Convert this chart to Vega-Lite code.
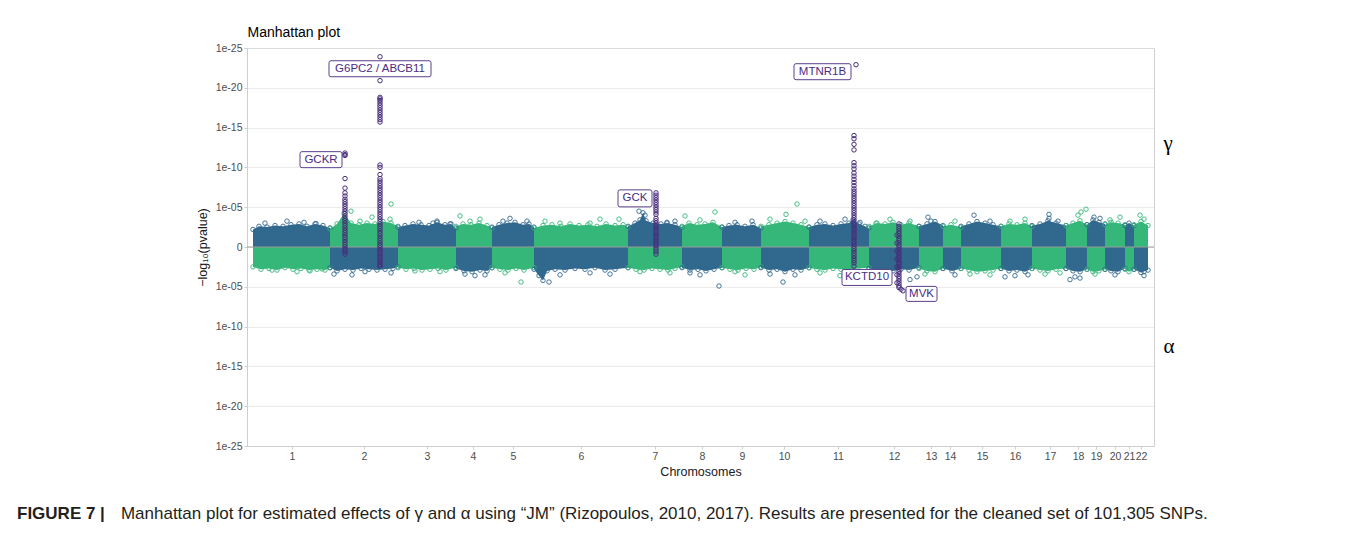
{
  "$schema": "https://vega.github.io/schema/vega-lite/v6.json",
  "width": 907,
  "height": 398,
  "autosize": {"type": "none"},
  "padding": {"left": 247, "top": 48, "right": 206, "bottom": 100},
  "background": "white",
  "config": {
    "view": {"stroke": null},
    "font": "Liberation Sans",
    "axis": {"labelFont": "Liberation Sans", "titleFont": "Liberation Sans"}
  },
  "title": {
    "text": "FIGURE 7 |",
    "subtitle": "\u200b\u00a0\u00a0\u00a0\u00a0\u00a0\u00a0\u00a0\u00a0\u00a0\u00a0\u00a0\u00a0\u00a0\u00a0\u00a0\u00a0\u00a0\u00a0\u00a0\u00a0\u00a0\u00a0Manhattan plot for estimated effects of γ and α using “JM” (Rizopoulos, 2010, 2017). Results are presented for the cleaned set of 101,305 SNPs.",
    "orient": "bottom",
    "anchor": "start",
    "frame": "group",
    "dx": -230,
    "offset": 28,
    "font": "Liberation Sans",
    "fontSize": 17,
    "fontWeight": "bold",
    "color": "#231f20",
    "subtitleFont": "Liberation Sans",
    "subtitleFontSize": 17,
    "subtitleColor": "#231f20",
    "subtitlePadding": -17
  },
  "datasets": {
    "env": [
      {"chr":1,"side":"g","pos":6,"v":2.2},{"chr":1,"side":"g","pos":12,"v":2.6},{"chr":1,"side":"g","pos":20,"v":2.5},{"chr":1,"side":"g","pos":28,"v":2.7},{"chr":1,"side":"g","pos":36,"v":2.6},{"chr":1,"side":"g","pos":44,"v":2.8},{"chr":1,"side":"g","pos":52,"v":2.9},{"chr":1,"side":"g","pos":60,"v":2.6},{"chr":1,"side":"g","pos":68,"v":2.9},{"chr":1,"side":"g","pos":76,"v":2.7},{"chr":1,"side":"g","pos":83,"v":2.4},
      {"chr":2,"side":"g","pos":83,"v":2.3},{"chr":2,"side":"g","pos":90,"v":2.9},{"chr":2,"side":"g","pos":97,"v":4.2},{"chr":2,"side":"g","pos":104,"v":3.0},{"chr":2,"side":"g","pos":112,"v":2.8},{"chr":2,"side":"g","pos":120,"v":3.0},{"chr":2,"side":"g","pos":128,"v":2.9},{"chr":2,"side":"g","pos":136,"v":3.2},{"chr":2,"side":"g","pos":144,"v":3.0},{"chr":2,"side":"g","pos":151,"v":2.6},
      {"chr":3,"side":"g","pos":151,"v":2.5},{"chr":3,"side":"g","pos":158,"v":2.7},{"chr":3,"side":"g","pos":166,"v":2.9},{"chr":3,"side":"g","pos":174,"v":2.8},{"chr":3,"side":"g","pos":182,"v":2.7},{"chr":3,"side":"g","pos":190,"v":3.1},{"chr":3,"side":"g","pos":198,"v":2.8},{"chr":3,"side":"g","pos":204,"v":2.9},{"chr":3,"side":"g","pos":209,"v":2.4},
      {"chr":4,"side":"g","pos":209,"v":2.6},{"chr":4,"side":"g","pos":216,"v":2.9},{"chr":4,"side":"g","pos":224,"v":2.8},{"chr":4,"side":"g","pos":232,"v":3.0},{"chr":4,"side":"g","pos":240,"v":2.7},{"chr":4,"side":"g","pos":245,"v":2.4},
      {"chr":5,"side":"g","pos":245,"v":2.5},{"chr":5,"side":"g","pos":252,"v":2.8},{"chr":5,"side":"g","pos":260,"v":3.0},{"chr":5,"side":"g","pos":268,"v":3.1},{"chr":5,"side":"g","pos":276,"v":2.8},{"chr":5,"side":"g","pos":282,"v":2.9},{"chr":5,"side":"g","pos":287,"v":2.5},
      {"chr":6,"side":"g","pos":287,"v":2.4},{"chr":6,"side":"g","pos":296,"v":2.7},{"chr":6,"side":"g","pos":305,"v":2.8},{"chr":6,"side":"g","pos":314,"v":2.6},{"chr":6,"side":"g","pos":323,"v":2.9},{"chr":6,"side":"g","pos":332,"v":2.7},{"chr":6,"side":"g","pos":341,"v":2.8},{"chr":6,"side":"g","pos":350,"v":2.6},{"chr":6,"side":"g","pos":359,"v":2.9},{"chr":6,"side":"g","pos":368,"v":2.7},{"chr":6,"side":"g","pos":376,"v":2.8},{"chr":6,"side":"g","pos":381,"v":2.5},
      {"chr":7,"side":"g","pos":381,"v":2.6},{"chr":7,"side":"g","pos":388,"v":3.0},{"chr":7,"side":"g","pos":393,"v":3.4},{"chr":7,"side":"g","pos":396,"v":4.3},{"chr":7,"side":"g","pos":399,"v":3.3},{"chr":7,"side":"g","pos":406,"v":3.0},{"chr":7,"side":"g","pos":414,"v":2.9},{"chr":7,"side":"g","pos":420,"v":3.0},{"chr":7,"side":"g","pos":428,"v":2.8},{"chr":7,"side":"g","pos":435,"v":2.5},
      {"chr":8,"side":"g","pos":435,"v":2.6},{"chr":8,"side":"g","pos":442,"v":3.0},{"chr":8,"side":"g","pos":450,"v":2.8},{"chr":8,"side":"g","pos":458,"v":2.9},{"chr":8,"side":"g","pos":466,"v":3.1},{"chr":8,"side":"g","pos":475,"v":2.5},
      {"chr":9,"side":"g","pos":475,"v":2.5},{"chr":9,"side":"g","pos":482,"v":2.7},{"chr":9,"side":"g","pos":490,"v":2.8},{"chr":9,"side":"g","pos":498,"v":2.6},{"chr":9,"side":"g","pos":506,"v":2.8},{"chr":9,"side":"g","pos":514,"v":2.4},
      {"chr":10,"side":"g","pos":514,"v":2.6},{"chr":10,"side":"g","pos":522,"v":2.8},{"chr":10,"side":"g","pos":530,"v":3.0},{"chr":10,"side":"g","pos":538,"v":3.2},{"chr":10,"side":"g","pos":546,"v":3.0},{"chr":10,"side":"g","pos":554,"v":2.8},{"chr":10,"side":"g","pos":562,"v":2.5},
      {"chr":11,"side":"g","pos":562,"v":2.5},{"chr":11,"side":"g","pos":570,"v":2.8},{"chr":11,"side":"g","pos":578,"v":2.9},{"chr":11,"side":"g","pos":586,"v":2.7},{"chr":11,"side":"g","pos":594,"v":2.9},{"chr":11,"side":"g","pos":602,"v":3.0},{"chr":11,"side":"g","pos":606,"v":3.4},{"chr":11,"side":"g","pos":612,"v":2.9},{"chr":11,"side":"g","pos":618,"v":2.6},{"chr":11,"side":"g","pos":622,"v":2.4},
      {"chr":12,"side":"g","pos":622,"v":2.6},{"chr":12,"side":"g","pos":630,"v":3.0},{"chr":12,"side":"g","pos":638,"v":2.9},{"chr":12,"side":"g","pos":646,"v":3.1},{"chr":12,"side":"g","pos":654,"v":2.8},{"chr":12,"side":"g","pos":662,"v":3.0},{"chr":12,"side":"g","pos":672,"v":2.6},
      {"chr":13,"side":"g","pos":672,"v":2.6},{"chr":13,"side":"g","pos":680,"v":2.9},{"chr":13,"side":"g","pos":688,"v":3.2},{"chr":13,"side":"g","pos":696,"v":2.7},
      {"chr":14,"side":"g","pos":696,"v":2.6},{"chr":14,"side":"g","pos":704,"v":2.8},{"chr":14,"side":"g","pos":714,"v":2.5},
      {"chr":15,"side":"g","pos":714,"v":2.6},{"chr":15,"side":"g","pos":722,"v":2.9},{"chr":15,"side":"g","pos":730,"v":3.2},{"chr":15,"side":"g","pos":738,"v":3.0},{"chr":15,"side":"g","pos":746,"v":2.8},{"chr":15,"side":"g","pos":754,"v":2.6},
      {"chr":16,"side":"g","pos":754,"v":2.6},{"chr":16,"side":"g","pos":762,"v":2.9},{"chr":16,"side":"g","pos":770,"v":2.8},{"chr":16,"side":"g","pos":778,"v":3.0},{"chr":16,"side":"g","pos":785,"v":2.6},
      {"chr":17,"side":"g","pos":785,"v":2.7},{"chr":17,"side":"g","pos":793,"v":2.9},{"chr":17,"side":"g","pos":801,"v":3.3},{"chr":17,"side":"g","pos":809,"v":3.0},{"chr":17,"side":"g","pos":819,"v":2.7},
      {"chr":18,"side":"g","pos":819,"v":2.7},{"chr":18,"side":"g","pos":826,"v":3.0},{"chr":18,"side":"g","pos":833,"v":3.3},{"chr":18,"side":"g","pos":840,"v":2.8},
      {"chr":19,"side":"g","pos":840,"v":2.8},{"chr":19,"side":"g","pos":846,"v":3.4},{"chr":19,"side":"g","pos":852,"v":3.1},{"chr":19,"side":"g","pos":858,"v":2.9},
      {"chr":20,"side":"g","pos":858,"v":2.8},{"chr":20,"side":"g","pos":864,"v":3.1},{"chr":20,"side":"g","pos":871,"v":3.0},{"chr":20,"side":"g","pos":878,"v":2.8},
      {"chr":21,"side":"g","pos":878,"v":2.7},{"chr":21,"side":"g","pos":882,"v":3.0},{"chr":21,"side":"g","pos":887,"v":2.7},
      {"chr":22,"side":"g","pos":887,"v":2.8},{"chr":22,"side":"g","pos":894,"v":3.2},{"chr":22,"side":"g","pos":901,"v":2.7},
      {"chr":1,"side":"a","pos":6,"v":-2.5},{"chr":1,"side":"a","pos":14,"v":-2.8},{"chr":1,"side":"a","pos":22,"v":-2.7},{"chr":1,"side":"a","pos":30,"v":-2.9},{"chr":1,"side":"a","pos":38,"v":-2.6},{"chr":1,"side":"a","pos":46,"v":-2.8},{"chr":1,"side":"a","pos":54,"v":-2.7},{"chr":1,"side":"a","pos":62,"v":-2.9},{"chr":1,"side":"a","pos":70,"v":-2.8},{"chr":1,"side":"a","pos":78,"v":-2.9},{"chr":1,"side":"a","pos":83,"v":-2.6},
      {"chr":2,"side":"a","pos":83,"v":-2.6},{"chr":2,"side":"a","pos":90,"v":-3.0},{"chr":2,"side":"a","pos":98,"v":-2.8},{"chr":2,"side":"a","pos":106,"v":-2.9},{"chr":2,"side":"a","pos":114,"v":-2.7},{"chr":2,"side":"a","pos":122,"v":-2.8},{"chr":2,"side":"a","pos":130,"v":-2.9},{"chr":2,"side":"a","pos":138,"v":-2.8},{"chr":2,"side":"a","pos":146,"v":-2.7},{"chr":2,"side":"a","pos":151,"v":-2.5},
      {"chr":3,"side":"a","pos":151,"v":-2.6},{"chr":3,"side":"a","pos":159,"v":-2.8},{"chr":3,"side":"a","pos":167,"v":-2.7},{"chr":3,"side":"a","pos":175,"v":-2.9},{"chr":3,"side":"a","pos":183,"v":-2.8},{"chr":3,"side":"a","pos":191,"v":-2.7},{"chr":3,"side":"a","pos":199,"v":-2.9},{"chr":3,"side":"a","pos":209,"v":-2.6},
      {"chr":4,"side":"a","pos":209,"v":-2.7},{"chr":4,"side":"a","pos":217,"v":-3.0},{"chr":4,"side":"a","pos":225,"v":-3.1},{"chr":4,"side":"a","pos":233,"v":-2.9},{"chr":4,"side":"a","pos":240,"v":-3.0},{"chr":4,"side":"a","pos":245,"v":-2.6},
      {"chr":5,"side":"a","pos":245,"v":-2.6},{"chr":5,"side":"a","pos":253,"v":-2.8},{"chr":5,"side":"a","pos":261,"v":-2.9},{"chr":5,"side":"a","pos":269,"v":-2.7},{"chr":5,"side":"a","pos":277,"v":-2.9},{"chr":5,"side":"a","pos":287,"v":-2.6},
      {"chr":6,"side":"a","pos":287,"v":-2.8},{"chr":6,"side":"a","pos":292,"v":-3.6},{"chr":6,"side":"a","pos":296,"v":-4.2},{"chr":6,"side":"a","pos":300,"v":-3.0},{"chr":6,"side":"a","pos":308,"v":-2.8},{"chr":6,"side":"a","pos":318,"v":-2.9},{"chr":6,"side":"a","pos":328,"v":-2.7},{"chr":6,"side":"a","pos":338,"v":-2.8},{"chr":6,"side":"a","pos":348,"v":-2.6},{"chr":6,"side":"a","pos":358,"v":-2.9},{"chr":6,"side":"a","pos":368,"v":-2.8},{"chr":6,"side":"a","pos":381,"v":-2.6},
      {"chr":7,"side":"a","pos":381,"v":-2.6},{"chr":7,"side":"a","pos":389,"v":-2.8},{"chr":7,"side":"a","pos":397,"v":-2.9},{"chr":7,"side":"a","pos":405,"v":-2.7},{"chr":7,"side":"a","pos":413,"v":-2.8},{"chr":7,"side":"a","pos":421,"v":-2.9},{"chr":7,"side":"a","pos":428,"v":-2.7},{"chr":7,"side":"a","pos":435,"v":-2.5},
      {"chr":8,"side":"a","pos":435,"v":-2.6},{"chr":8,"side":"a","pos":443,"v":-2.9},{"chr":8,"side":"a","pos":451,"v":-2.8},{"chr":8,"side":"a","pos":459,"v":-3.0},{"chr":8,"side":"a","pos":467,"v":-2.8},{"chr":8,"side":"a","pos":475,"v":-2.6},
      {"chr":9,"side":"a","pos":475,"v":-2.6},{"chr":9,"side":"a","pos":483,"v":-2.8},{"chr":9,"side":"a","pos":491,"v":-2.9},{"chr":9,"side":"a","pos":499,"v":-2.7},{"chr":9,"side":"a","pos":507,"v":-2.8},{"chr":9,"side":"a","pos":514,"v":-2.5},
      {"chr":10,"side":"a","pos":514,"v":-2.6},{"chr":10,"side":"a","pos":522,"v":-2.9},{"chr":10,"side":"a","pos":530,"v":-2.8},{"chr":10,"side":"a","pos":538,"v":-3.1},{"chr":10,"side":"a","pos":546,"v":-2.8},{"chr":10,"side":"a","pos":554,"v":-2.9},{"chr":10,"side":"a","pos":562,"v":-2.6},
      {"chr":11,"side":"a","pos":562,"v":-2.6},{"chr":11,"side":"a","pos":570,"v":-2.8},{"chr":11,"side":"a","pos":578,"v":-2.9},{"chr":11,"side":"a","pos":586,"v":-2.7},{"chr":11,"side":"a","pos":594,"v":-2.8},{"chr":11,"side":"a","pos":602,"v":-2.9},{"chr":11,"side":"a","pos":610,"v":-2.7},{"chr":11,"side":"a","pos":622,"v":-2.6},
      {"chr":12,"side":"a","pos":622,"v":-2.7},{"chr":12,"side":"a","pos":630,"v":-2.9},{"chr":12,"side":"a","pos":638,"v":-2.8},{"chr":12,"side":"a","pos":646,"v":-3.0},{"chr":12,"side":"a","pos":654,"v":-2.8},{"chr":12,"side":"a","pos":662,"v":-2.9},{"chr":12,"side":"a","pos":672,"v":-2.6},
      {"chr":13,"side":"a","pos":672,"v":-2.7},{"chr":13,"side":"a","pos":680,"v":-3.0},{"chr":13,"side":"a","pos":688,"v":-3.1},{"chr":13,"side":"a","pos":696,"v":-2.7},
      {"chr":14,"side":"a","pos":696,"v":-2.7},{"chr":14,"side":"a","pos":705,"v":-3.0},{"chr":14,"side":"a","pos":714,"v":-2.7},
      {"chr":15,"side":"a","pos":714,"v":-2.7},{"chr":15,"side":"a","pos":722,"v":-2.9},{"chr":15,"side":"a","pos":730,"v":-3.1},{"chr":15,"side":"a","pos":738,"v":-3.0},{"chr":15,"side":"a","pos":746,"v":-2.9},{"chr":15,"side":"a","pos":754,"v":-2.7},
      {"chr":16,"side":"a","pos":754,"v":-2.7},{"chr":16,"side":"a","pos":762,"v":-3.0},{"chr":16,"side":"a","pos":770,"v":-2.9},{"chr":16,"side":"a","pos":778,"v":-3.1},{"chr":16,"side":"a","pos":785,"v":-2.7},
      {"chr":17,"side":"a","pos":785,"v":-2.7},{"chr":17,"side":"a","pos":793,"v":-2.9},{"chr":17,"side":"a","pos":801,"v":-3.0},{"chr":17,"side":"a","pos":809,"v":-2.8},{"chr":17,"side":"a","pos":819,"v":-2.7},
      {"chr":18,"side":"a","pos":819,"v":-2.7},{"chr":18,"side":"a","pos":826,"v":-3.0},{"chr":18,"side":"a","pos":833,"v":-3.1},{"chr":18,"side":"a","pos":840,"v":-2.8},
      {"chr":19,"side":"a","pos":840,"v":-2.8},{"chr":19,"side":"a","pos":846,"v":-3.1},{"chr":19,"side":"a","pos":852,"v":-3.0},{"chr":19,"side":"a","pos":858,"v":-2.8},
      {"chr":20,"side":"a","pos":858,"v":-2.8},{"chr":20,"side":"a","pos":864,"v":-3.0},{"chr":20,"side":"a","pos":871,"v":-3.1},{"chr":20,"side":"a","pos":878,"v":-2.7},
      {"chr":21,"side":"a","pos":878,"v":-2.8},{"chr":21,"side":"a","pos":882,"v":-3.1},{"chr":21,"side":"a","pos":887,"v":-2.8},
      {"chr":22,"side":"a","pos":887,"v":-2.8},{"chr":22,"side":"a","pos":894,"v":-3.2},{"chr":22,"side":"a","pos":901,"v":-2.9}
    ],
    "out": [
      {"chr":1,"side":"g","pos":18,"v":3.0},{"chr":1,"side":"g","pos":40,"v":3.25},{"chr":1,"side":"g","pos":57,"v":3.1},{"chr":1,"side":"g","pos":69,"v":2.95},
      {"chr":2,"side":"g","pos":104,"v":4.5},{"chr":2,"side":"g","pos":144,"v":5.4},{"chr":2,"side":"g","pos":143,"v":3.5},{"chr":2,"side":"g","pos":125,"v":3.75},{"chr":2,"side":"g","pos":113,"v":3.25},
      {"chr":3,"side":"g","pos":172,"v":3.1},{"chr":3,"side":"g","pos":186,"v":3.0},{"chr":3,"side":"g","pos":190,"v":3.25},{"chr":3,"side":"g","pos":203,"v":2.9},
      {"chr":4,"side":"g","pos":213,"v":3.9},{"chr":4,"side":"g","pos":223,"v":3.25},{"chr":4,"side":"g","pos":233,"v":3.5},
      {"chr":5,"side":"g","pos":256,"v":3.25},{"chr":5,"side":"g","pos":263,"v":3.6},{"chr":5,"side":"g","pos":280,"v":3.25},
      {"chr":6,"side":"g","pos":298,"v":3.25},{"chr":6,"side":"g","pos":313,"v":3.0},{"chr":6,"side":"g","pos":343,"v":3.0},{"chr":6,"side":"g","pos":353,"v":3.5},{"chr":6,"side":"g","pos":372,"v":3.5},
      {"chr":7,"side":"g","pos":392,"v":4.5},{"chr":7,"side":"g","pos":398,"v":4.0},{"chr":7,"side":"g","pos":420,"v":3.1},{"chr":7,"side":"g","pos":428,"v":3.25},
      {"chr":8,"side":"g","pos":438,"v":3.9},{"chr":8,"side":"g","pos":468,"v":4.4},{"chr":8,"side":"g","pos":453,"v":3.4},
      {"chr":9,"side":"g","pos":488,"v":3.1},{"chr":9,"side":"g","pos":505,"v":3.25},
      {"chr":10,"side":"g","pos":550,"v":5.4},{"chr":10,"side":"g","pos":539,"v":4.1},{"chr":10,"side":"g","pos":523,"v":3.5},{"chr":10,"side":"g","pos":558,"v":3.25},
      {"chr":11,"side":"g","pos":573,"v":3.25},{"chr":11,"side":"g","pos":598,"v":3.5},{"chr":11,"side":"g","pos":613,"v":3.1},
      {"chr":12,"side":"g","pos":629,"v":3.0},{"chr":12,"side":"g","pos":643,"v":3.5},{"chr":12,"side":"g","pos":663,"v":3.25},
      {"chr":13,"side":"g","pos":681,"v":3.75},{"chr":13,"side":"g","pos":684,"v":3.25},
      {"chr":14,"side":"g","pos":708,"v":3.25},
      {"chr":15,"side":"g","pos":727,"v":4.0},{"chr":15,"side":"g","pos":743,"v":3.25},
      {"chr":16,"side":"g","pos":763,"v":3.25},{"chr":16,"side":"g","pos":778,"v":3.5},
      {"chr":17,"side":"g","pos":802,"v":4.1},{"chr":17,"side":"g","pos":802,"v":3.6},{"chr":17,"side":"g","pos":811,"v":3.25},
      {"chr":18,"side":"g","pos":831,"v":4.0},{"chr":18,"side":"g","pos":834,"v":4.4},{"chr":18,"side":"g","pos":839,"v":4.75},
      {"chr":19,"side":"g","pos":847,"v":3.75},{"chr":19,"side":"g","pos":853,"v":3.6},
      {"chr":20,"side":"g","pos":873,"v":3.75},{"chr":20,"side":"g","pos":863,"v":3.4},
      {"chr":22,"side":"g","pos":897,"v":3.5},{"chr":22,"side":"g","pos":893,"v":4.0},
      {"chr":1,"side":"a","pos":63,"v":-3.0},{"chr":1,"side":"a","pos":50,"v":-3.1},{"chr":1,"side":"a","pos":25,"v":-2.9},{"chr":1,"side":"a","pos":75,"v":-2.75},
      {"chr":2,"side":"a","pos":87,"v":-3.4},{"chr":2,"side":"a","pos":144,"v":-3.25},{"chr":2,"side":"a","pos":118,"v":-3.1},{"chr":2,"side":"a","pos":105,"v":-3.5},
      {"chr":3,"side":"a","pos":168,"v":-3.0},{"chr":3,"side":"a","pos":193,"v":-3.1},
      {"chr":4,"side":"a","pos":218,"v":-3.4},{"chr":4,"side":"a","pos":228,"v":-3.6},{"chr":4,"side":"a","pos":238,"v":-3.5},
      {"chr":5,"side":"a","pos":274,"v":-4.4},{"chr":5,"side":"a","pos":258,"v":-3.25},
      {"chr":6,"side":"a","pos":302,"v":-4.4},{"chr":6,"side":"a","pos":313,"v":-3.5},{"chr":6,"side":"a","pos":343,"v":-3.25},{"chr":6,"side":"a","pos":363,"v":-3.4},
      {"chr":7,"side":"a","pos":393,"v":-3.1},{"chr":7,"side":"a","pos":423,"v":-3.25},
      {"chr":8,"side":"a","pos":472,"v":-4.9},{"chr":8,"side":"a","pos":453,"v":-3.5},{"chr":8,"side":"a","pos":443,"v":-3.25},
      {"chr":9,"side":"a","pos":498,"v":-3.5},{"chr":9,"side":"a","pos":488,"v":-3.1},
      {"chr":10,"side":"a","pos":536,"v":-4.4},{"chr":10,"side":"a","pos":548,"v":-3.5},{"chr":10,"side":"a","pos":523,"v":-3.4},
      {"chr":11,"side":"a","pos":573,"v":-3.25},{"chr":11,"side":"a","pos":593,"v":-3.6},{"chr":11,"side":"a","pos":615,"v":-3.4},
      {"chr":12,"side":"a","pos":663,"v":-4.1},{"chr":12,"side":"a","pos":670,"v":-3.75},{"chr":12,"side":"a","pos":633,"v":-3.4},
      {"chr":13,"side":"a","pos":678,"v":-3.4},
      {"chr":14,"side":"a","pos":708,"v":-3.5},
      {"chr":15,"side":"a","pos":723,"v":-3.4},{"chr":15,"side":"a","pos":743,"v":-3.5},
      {"chr":16,"side":"a","pos":758,"v":-3.75},{"chr":16,"side":"a","pos":768,"v":-3.6},{"chr":16,"side":"a","pos":781,"v":-3.5},
      {"chr":17,"side":"a","pos":798,"v":-3.4},{"chr":17,"side":"a","pos":813,"v":-3.25},
      {"chr":18,"side":"a","pos":823,"v":-4.1},{"chr":18,"side":"a","pos":828,"v":-3.75},{"chr":18,"side":"a","pos":833,"v":-3.9},
      {"chr":19,"side":"a","pos":848,"v":-3.4},
      {"chr":20,"side":"a","pos":868,"v":-3.5},
      {"chr":22,"side":"a","pos":897,"v":-3.1},{"chr":22,"side":"a","pos":897,"v":-3.6}
    ],
    "hits": [
      {"pos":98,"v":11.8},{"pos":98,"v":11.6},{"pos":98,"v":11.5},{"pos":98,"v":8.6},{"pos":98,"v":7.4},{"pos":98,"v":6.8},{"pos":98,"v":6.4},{"pos":98,"v":6.0},{"pos":98,"v":5.7},{"pos":98,"v":5.4},{"pos":98,"v":5.1},{"pos":98,"v":4.8},{"pos":98,"v":4.5},{"pos":98,"v":4.2},{"pos":98,"v":3.9},{"pos":98,"v":3.6},{"pos":98,"v":3.3},{"pos":98,"v":3.0},{"pos":98,"v":2.7},{"pos":98,"v":2.4},{"pos":98,"v":2.1},{"pos":98,"v":1.8},{"pos":98,"v":1.5},{"pos":98,"v":1.2},{"pos":98,"v":0.9},{"pos":98,"v":0.6},{"pos":98,"v":0.3},{"pos":98,"v":0.0},{"pos":98,"v":-0.3},{"pos":98,"v":-0.6},{"pos":98,"v":-0.9},
      {"pos":133,"v":23.9},{"pos":133,"v":20.9},{"pos":133,"v":18.8},{"pos":133,"v":18.6},{"pos":133,"v":18.4},{"pos":133,"v":18.1},{"pos":133,"v":17.8},{"pos":133,"v":17.5},{"pos":133,"v":17.2},{"pos":133,"v":16.9},{"pos":133,"v":16.6},{"pos":133,"v":16.3},{"pos":133,"v":16.0},{"pos":133,"v":15.7},{"pos":133,"v":10.3},{"pos":133,"v":10.0},{"pos":133,"v":9.1},{"pos":133,"v":8.6},{"pos":133,"v":8.3},{"pos":133,"v":8.0},{"pos":133,"v":7.7},{"pos":133,"v":7.4},{"pos":133,"v":7.1},{"pos":133,"v":6.8},{"pos":133,"v":6.5},{"pos":133,"v":6.2},{"pos":133,"v":5.9},{"pos":133,"v":5.6},{"pos":133,"v":5.3},{"pos":133,"v":5.0},{"pos":133,"v":4.7},{"pos":133,"v":4.4},{"pos":133,"v":4.1},{"pos":133,"v":3.8},{"pos":133,"v":3.5},{"pos":133,"v":3.2},{"pos":133,"v":2.9},{"pos":133,"v":2.6},{"pos":133,"v":2.3},{"pos":133,"v":2.0},{"pos":133,"v":1.7},{"pos":133,"v":1.4},{"pos":133,"v":1.1},{"pos":133,"v":0.8},{"pos":133,"v":0.5},{"pos":133,"v":0.2},{"pos":133,"v":-0.1},{"pos":133,"v":-0.4},{"pos":133,"v":-0.7},{"pos":133,"v":-1.0},{"pos":133,"v":-1.3},{"pos":133,"v":-1.6},{"pos":133,"v":-1.9},{"pos":133,"v":-2.2},{"pos":133,"v":-2.4},
      {"pos":409,"v":6.8},{"pos":409,"v":6.5},{"pos":409,"v":6.2},{"pos":409,"v":5.9},{"pos":409,"v":5.6},{"pos":409,"v":5.3},{"pos":409,"v":5.0},{"pos":409,"v":4.7},{"pos":409,"v":4.4},{"pos":409,"v":4.1},{"pos":409,"v":3.6},{"pos":409,"v":3.3},{"pos":409,"v":3.0},{"pos":409,"v":2.7},{"pos":409,"v":2.4},{"pos":409,"v":2.1},{"pos":409,"v":1.8},{"pos":409,"v":1.5},{"pos":409,"v":1.2},{"pos":409,"v":0.9},{"pos":409,"v":0.6},{"pos":409,"v":0.3},{"pos":409,"v":0.0},{"pos":409,"v":-0.3},{"pos":409,"v":-0.6},{"pos":409,"v":-0.9},
      {"pos":609,"v":22.9},{"pos":607,"v":14.0},{"pos":607,"v":13.6},{"pos":607,"v":12.9},{"pos":607,"v":12.2},{"pos":607,"v":10.6},{"pos":607,"v":10.2},{"pos":607,"v":9.8},{"pos":607,"v":9.3},{"pos":607,"v":8.9},{"pos":607,"v":8.5},{"pos":607,"v":8.1},{"pos":607,"v":7.7},{"pos":607,"v":7.3},{"pos":607,"v":7.0},{"pos":607,"v":6.7},{"pos":607,"v":6.4},{"pos":607,"v":6.1},{"pos":607,"v":5.8},{"pos":607,"v":5.5},{"pos":607,"v":5.2},{"pos":607,"v":4.9},{"pos":607,"v":4.6},{"pos":607,"v":4.3},{"pos":607,"v":4.0},{"pos":607,"v":3.7},{"pos":607,"v":3.4},{"pos":607,"v":3.1},{"pos":607,"v":2.8},{"pos":607,"v":2.5},{"pos":607,"v":2.2},{"pos":607,"v":1.9},{"pos":607,"v":1.6},{"pos":607,"v":1.3},{"pos":607,"v":1.0},{"pos":607,"v":0.7},{"pos":607,"v":0.4},{"pos":607,"v":0.1},{"pos":607,"v":-0.2},{"pos":607,"v":-0.5},{"pos":607,"v":-0.8},{"pos":607,"v":-1.1},{"pos":607,"v":-1.4},{"pos":607,"v":-1.7},{"pos":607,"v":-2.0},{"pos":607,"v":-2.4},
      {"pos":652,"v":2.9},{"pos":652,"v":2.6},{"pos":652,"v":2.3},{"pos":652,"v":2.0},{"pos":652,"v":1.7},{"pos":652,"v":1.4},{"pos":652,"v":1.1},{"pos":652,"v":0.8},{"pos":652,"v":0.5},{"pos":652,"v":0.2},{"pos":652,"v":-0.1},{"pos":652,"v":-0.4},{"pos":652,"v":-0.7},{"pos":652,"v":-1.0},{"pos":652,"v":-1.3},{"pos":652,"v":-1.6},{"pos":652,"v":-1.9},{"pos":652,"v":-2.2},{"pos":652,"v":-2.5},{"pos":652,"v":-2.8},{"pos":652,"v":-3.1},{"pos":652,"v":-3.4},{"pos":652,"v":-3.7},{"pos":652,"v":-4.0},{"pos":652,"v":-4.3},{"pos":652,"v":-4.6},{"pos":652,"v":-4.9},{"pos":652,"v":-5.1},{"pos":654,"v":-5.3},{"pos":656,"v":-5.5},
      {"pos":650,"v":1.5},{"pos":650,"v":0.5},{"pos":650,"v":-0.5},{"pos":650,"v":-1.5},{"pos":650,"v":-2.5},{"pos":650,"v":-3.5},{"pos":650,"v":-4.5}
    ],
    "labels": [
      {"gene":"GCKR","pos":98,"v":11.6},
      {"gene":"G6PC2 / ABCB11","pos":133,"v":23.9},
      {"gene":"MTNR1B","pos":609,"v":22.9},
      {"gene":"GCK","pos":409,"v":6.8},
      {"gene":"KCTD10","pos":652,"v":-3.7},
      {"gene":"MVK","pos":652,"v":-5.2}
    ]
  },
  "resolve": {"axis": {"x": "independent", "y": "independent"}},
  "layer": [
    {
      "data": {"name": "env"},
      "mark": {"type": "area", "opacity": 1, "interpolate": "linear"},
      "encoding": {
        "x": {"field": "pos", "type": "quantitative", "scale": {"domain": [0, 907], "nice": false, "zero": false},
          "axis": {"orient": "bottom", "values": [45,117,180,226,266,334,408,455,495,537,591,647,684,703,735,768,803,831,849,868,882,894],
            "labelExpr": "'' + (indexof([45,117,180,226,266,334,408,455,495,537,591,647,684,703,735,768,803,831,849,868,882,894], datum.value) + 1)",
            "grid": false, "title": "Chromosomes", "titleFontWeight": "normal", "titleFontSize": 12.5, "titleColor": "#1a1a1a", "titlePadding": 4,
            "labelFontSize": 10.5, "labelColor": "#4d4d4d", "labelPadding": 2, "tickSize": 3, "tickColor": "#cfcfcf", "domainColor": "#cfcfcf",
            "labelOverlap": false, "labelFlush": false, "labelBound": false}},
        "y": {"field": "v", "type": "quantitative", "scale": {"domain": [-25, 25], "nice": false, "zero": false},
          "axis": {"orient": "left", "values": [-25,-20,-15,-10,-5,0,5,10,15,20,25],
            "labelExpr": "datum.value == 0 ? '0' : '1e-' + (abs(datum.value) < 10 ? '0' : '') + abs(datum.value)",
            "grid": true, "gridColor": "#ebebeb", "gridWidth": 1, "title": "\u2212log\u2081\u2080(pvalue)", "titleFontWeight": "normal", "titleFontSize": 12.5, "titleColor": "#1a1a1a", "titlePadding": 6,
            "labelFontSize": 10.5, "labelColor": "#4d4d4d", "labelPadding": 2, "tickSize": 3, "tickColor": "#cfcfcf", "domainColor": "#cfcfcf", "labelOverlap": false, "labelFlush": false}},
        "y2": {"datum": 0},
        "detail": [{"field": "chr"}, {"field": "side"}],
        "color": {"condition": {"test": "(datum.chr % 2 == 1) == (datum.side == 'g')", "value": "#31688E"}, "value": "#35B779"}
      }
    },
    {
      "data": {"name": "env"},
      "mark": {"type": "point", "filled": false, "size": 20, "strokeWidth": 0.9, "opacity": 1},
      "encoding": {
        "x": {"field": "pos", "type": "quantitative", "axis": null},
        "y": {"field": "v", "type": "quantitative", "axis": null},
        "color": {"condition": {"test": "(datum.chr % 2 == 1) == (datum.side == 'g')", "value": "#31688E"}, "value": "#35B779"}
      }
    },
    {
      "data": {"name": "out"},
      "mark": {"type": "point", "filled": false, "size": 20, "strokeWidth": 0.9, "opacity": 1},
      "encoding": {
        "x": {"field": "pos", "type": "quantitative", "axis": null},
        "y": {"field": "v", "type": "quantitative", "axis": null},
        "color": {"condition": {"test": "(datum.chr % 2 == 1) == (datum.side == 'g')", "value": "#31688E"}, "value": "#35B779"}
      }
    },
    {
      "data": {"values": [{"z": 0}]},
      "mark": {"type": "rule", "color": "#9a9a9a", "strokeWidth": 1},
      "encoding": {
        "y": {"field": "z", "type": "quantitative",
          "axis": {"orient": "right", "values": [13, -12.5], "labelExpr": "datum.value > 0 ? 'γ' : 'α'", "grid": false, "ticks": false, "domain": true, "domainColor": "#d0d0d0",
            "labelFont": "Liberation Serif", "labelFontSize": 21, "labelColor": "#000000", "labelPadding": 9, "title": null, "labelOverlap": false}}
      }
    },
    {
      "data": {"name": "hits"},
      "mark": {"type": "point", "filled": false, "size": 20, "strokeWidth": 1, "color": "#472D7B", "opacity": 1},
      "encoding": {
        "x": {"field": "pos", "type": "quantitative",
          "axis": {"orient": "top", "labels": false, "ticks": false, "grid": false, "domain": true, "domainColor": "#dcdcdc",
            "title": "Manhattan plot", "titleAnchor": "start", "titleAlign": "left", "titleFontSize": 14, "titleFontWeight": "normal", "titleColor": "#000000", "titlePadding": 9}},
        "y": {"field": "v", "type": "quantitative", "axis": null}
      }
    },
    {
      "data": {"name": "labels"}, "transform": [{"filter": "datum.gene == 'GCKR'"}],
      "mark": {"type": "point", "shape": "M-43,-3H-5Q-3,-3 -3,-1V11Q-3,13 -5,13H-43Q-45,13 -45,11V-1Q-45,-3 -43,-3Z", "size": 4, "filled": true, "fill": "white", "stroke": "#5b3f8c", "strokeWidth": 1, "opacity": 1},
      "encoding": {"x": {"field": "pos", "type": "quantitative", "axis": null}, "y": {"field": "v", "type": "quantitative", "axis": null}}
    },
    {
      "data": {"name": "labels"}, "transform": [{"filter": "datum.gene == 'GCKR'"}],
      "mark": {"type": "text", "dx": -24, "dy": 5, "align": "center", "baseline": "middle", "fontSize": 11.5, "font": "Liberation Sans", "color": "#4b2c83"},
      "encoding": {"x": {"field": "pos", "type": "quantitative", "axis": null}, "y": {"field": "v", "type": "quantitative", "axis": null}, "text": {"field": "gene"}}
    },
    {
      "data": {"name": "labels"}, "transform": [{"filter": "datum.gene == 'G6PC2 / ABCB11'"}],
      "mark": {"type": "point", "shape": "M-49,4H49Q51,4 51,6V18Q51,20 49,20H-49Q-51,20 -51,18V6Q-51,4 -49,4Z", "size": 4, "filled": true, "fill": "white", "stroke": "#5b3f8c", "strokeWidth": 1, "opacity": 1},
      "encoding": {"x": {"field": "pos", "type": "quantitative", "axis": null}, "y": {"field": "v", "type": "quantitative", "axis": null}}
    },
    {
      "data": {"name": "labels"}, "transform": [{"filter": "datum.gene == 'G6PC2 / ABCB11'"}],
      "mark": {"type": "text", "dx": 0, "dy": 12, "align": "center", "baseline": "middle", "fontSize": 11.5, "font": "Liberation Sans", "color": "#4b2c83"},
      "encoding": {"x": {"field": "pos", "type": "quantitative", "axis": null}, "y": {"field": "v", "type": "quantitative", "axis": null}, "text": {"field": "gene"}}
    },
    {
      "data": {"name": "labels"}, "transform": [{"filter": "datum.gene == 'MTNR1B'"}],
      "mark": {"type": "point", "shape": "M-60,-1H-7Q-5,-1 -5,1V13Q-5,15 -7,15H-60Q-62,15 -62,13V1Q-62,-1 -60,-1Z", "size": 4, "filled": true, "fill": "white", "stroke": "#5b3f8c", "strokeWidth": 1, "opacity": 1},
      "encoding": {"x": {"field": "pos", "type": "quantitative", "axis": null}, "y": {"field": "v", "type": "quantitative", "axis": null}}
    },
    {
      "data": {"name": "labels"}, "transform": [{"filter": "datum.gene == 'MTNR1B'"}],
      "mark": {"type": "text", "dx": -33.5, "dy": 7, "align": "center", "baseline": "middle", "fontSize": 11.5, "font": "Liberation Sans", "color": "#4b2c83"},
      "encoding": {"x": {"field": "pos", "type": "quantitative", "axis": null}, "y": {"field": "v", "type": "quantitative", "axis": null}, "text": {"field": "gene"}}
    },
    {
      "data": {"name": "labels"}, "transform": [{"filter": "datum.gene == 'GCK'"}],
      "mark": {"type": "point", "shape": "M-36,-3H-6Q-4,-3 -4,-1V12Q-4,14 -6,14H-36Q-38,14 -38,12V-1Q-38,-3 -36,-3Z", "size": 4, "filled": true, "fill": "white", "stroke": "#5b3f8c", "strokeWidth": 1, "opacity": 1},
      "encoding": {"x": {"field": "pos", "type": "quantitative", "axis": null}, "y": {"field": "v", "type": "quantitative", "axis": null}}
    },
    {
      "data": {"name": "labels"}, "transform": [{"filter": "datum.gene == 'GCK'"}],
      "mark": {"type": "text", "dx": -21, "dy": 5.5, "align": "center", "baseline": "middle", "fontSize": 11.5, "font": "Liberation Sans", "color": "#4b2c83"},
      "encoding": {"x": {"field": "pos", "type": "quantitative", "axis": null}, "y": {"field": "v", "type": "quantitative", "axis": null}, "text": {"field": "gene"}}
    },
    {
      "data": {"name": "labels"}, "transform": [{"filter": "datum.gene == 'KCTD10'"}],
      "mark": {"type": "point", "shape": "M-55,-7H-9Q-7,-7 -7,-5V7Q-7,9 -9,9H-55Q-57,9 -57,7V-5Q-57,-7 -55,-7Z", "size": 4, "filled": true, "fill": "white", "stroke": "#5b3f8c", "strokeWidth": 1, "opacity": 1},
      "encoding": {"x": {"field": "pos", "type": "quantitative", "axis": null}, "y": {"field": "v", "type": "quantitative", "axis": null}}
    },
    {
      "data": {"name": "labels"}, "transform": [{"filter": "datum.gene == 'KCTD10'"}],
      "mark": {"type": "text", "dx": -32, "dy": 1, "align": "center", "baseline": "middle", "fontSize": 11.5, "font": "Liberation Sans", "color": "#4b2c83"},
      "encoding": {"x": {"field": "pos", "type": "quantitative", "axis": null}, "y": {"field": "v", "type": "quantitative", "axis": null}, "text": {"field": "gene"}}
    },
    {
      "data": {"name": "labels"}, "transform": [{"filter": "datum.gene == 'MVK'"}],
      "mark": {"type": "point", "shape": "M9,-2H36Q38,-2 38,0V11Q38,13 36,13H9Q7,13 7,11V0Q7,-2 9,-2Z", "size": 4, "filled": true, "fill": "white", "stroke": "#5b3f8c", "strokeWidth": 1, "opacity": 1},
      "encoding": {"x": {"field": "pos", "type": "quantitative", "axis": null}, "y": {"field": "v", "type": "quantitative", "axis": null}}
    },
    {
      "data": {"name": "labels"}, "transform": [{"filter": "datum.gene == 'MVK'"}],
      "mark": {"type": "text", "dx": 22.5, "dy": 5.5, "align": "center", "baseline": "middle", "fontSize": 11.5, "font": "Liberation Sans", "color": "#4b2c83"},
      "encoding": {"x": {"field": "pos", "type": "quantitative", "axis": null}, "y": {"field": "v", "type": "quantitative", "axis": null}, "text": {"field": "gene"}}
    }
  ]
}
